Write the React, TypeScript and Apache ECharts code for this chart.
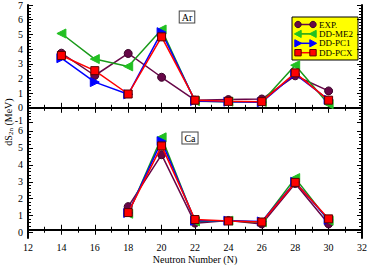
import React, { useEffect, useRef } from "react";
import * as echarts from "echarts";

const neutrons = [14, 16, 18, 20, 22, 24, 26, 28, 30];
const arExp = [3.72, 2.2, 3.7, 2.08, 0.52, 0.56, 0.6, 2.18, 1.15];
const arMe2 = [5.06, 3.32, 2.82, 5.33, 0.45, 0.42, 0.4, 2.9, 0.25];
const arPc1 = [3.38, 1.75, 0.92, 5.15, 0.47, 0.42, 0.38, 2.3, 0.55];
const arPcx = [3.56, 2.53, 0.94, 4.83, 0.52, 0.44, 0.42, 2.38, 0.52];

const caNeutrons = [18, 20, 22, 24, 26, 28, 30];
const caExp = [1.4, 4.55, 0.4, 0.56, 0.35, 2.8, 0.35];
const caMe2 = [0.97, 5.6, 0.5, 0.55, 0.45, 3.13, 0.55];
const caPc1 = [1.02, 5.37, 0.55, 0.55, 0.5, 2.9, 0.6];
const caPcx = [1.04, 5.08, 0.62, 0.53, 0.47, 2.87, 0.66];

const seriesNames = ["EXP.", "DD-ME2", "DD-PC1", "DD-PCX"];

const FONT = "Liberation Serif";

const styles = [
  { line: "#670748", fill: "#670748", border: "#3a0428", symbol: "circle", rotate: 0, size: 8 },
  { line: "#1a9a1a", fill: "#22c022", border: "#22c022", symbol: "triangle", rotate: 90, size: 9 },
  { line: "#0000ff", fill: "#0000ff", border: "#0000ff", symbol: "triangle", rotate: -90, size: 9 },
  { line: "#ff0000", fill: "#ff0000", border: "#5a0000", symbol: "rect", rotate: 0, size: 8 },
];

export default function App() {
  const ref = useRef<HTMLDivElement>(null);
  useEffect(() => {
    const chart = echarts.init(ref.current!, null, { renderer: "svg" });
    const pair = (xs: number[], ys: number[]) => xs.map((x, i) => [x, ys[i]]);
    const arSets = [arExp, arMe2, arPc1, arPcx];
    const caSets = [caExp, caMe2, caPc1, caPcx];

    const mkSeries = (name: string, idx: number, data: number[][], axis: number) => ({
      name,
      type: "line",
      xAxisIndex: axis,
      yAxisIndex: axis,
      data,
      symbol: styles[idx].symbol,
      symbolRotate: styles[idx].rotate,
      symbolSize: styles[idx].size,
      lineStyle: { color: styles[idx].line, width: 1.5 },
      itemStyle: { color: styles[idx].fill, borderColor: styles[idx].border, borderWidth: 1 },
      z: 2 + idx,
    });

    const series: any[] = [];
    seriesNames.forEach((n, i) => series.push(mkSeries(n, i, pair(neutrons, arSets[i]), 0)));
    seriesNames.forEach((n, i) => series.push(mkSeries(n, i, pair(caNeutrons, caSets[i]), 1)));

    const axisLine = { show: true, lineStyle: { color: "#000", width: 2 } };
    const noLine = { show: false };
    const labelStyle = { fontFamily: FONT, fontSize: 10, color: "#000" };
    const tick = { inside: true, length: 5, lineStyle: { color: "#000", width: 1 } };

    const xAx = (gi: number, pos: string, showLabel: boolean, line: boolean) => ({
      type: "value",
      gridIndex: gi,
      position: pos,
      min: 12,
      max: 32,
      interval: 2,
      axisLine: line ? axisLine : noLine,
      axisTick: line ? tick : { show: false },
      minorTick: { show: line, splitNumber: 2, length: 3, lineStyle: { color: "#000" } },
      splitLine: { show: false },
      axisLabel: { show: showLabel, ...labelStyle, margin: 4 },
      name: showLabel ? "Neutron Number (N)" : "",
      nameLocation: "middle",
      nameGap: 16,
      nameTextStyle: { fontFamily: FONT, fontSize: 10, color: "#000" },
    });

    const yAx = (gi: number, pos: string, min: number, max: number, opts: any) => ({
      type: "value",
      gridIndex: gi,
      position: pos,
      min,
      max,
      interval: 1,
      axisLine: opts.line ? axisLine : noLine,
      axisTick: opts.ticks ? tick : { show: false },
      minorTick: { show: !!opts.ticks, splitNumber: 5, length: 3, lineStyle: { color: "#000" } },
      splitLine: { show: false },
      axisLabel: opts.labels
        ? {
            ...labelStyle,
            margin: 5,
            formatter: (v: number) => (v === -1 ? "{m|-1}" : String(v)),
            rich: { m: { ...labelStyle, padding: [0, 0, 4, 0] } },
          }
        : { show: false },
    });

    // bottom panel: data grid spans -0.5..6.5, tick overlay spans 0..6
    const bTop = 122.5;
    const bH = 118.5;
    const unit = bH / 7;

    chart.setOption({
      animation: false,
      backgroundColor: "#fff",
      grid: [
        { left: 28, right: 10, top: 3.5, height: 119 },
        { left: 28, right: 10, top: bTop, height: bH },
        { left: 28, right: 10, top: bTop + unit * 0.5, height: unit * 6 },
      ],
      xAxis: [
        xAx(0, "bottom", false, true),
        xAx(1, "bottom", true, true),
        xAx(0, "top", false, true),
        xAx(1, "top", false, true),
        { ...xAx(2, "bottom", false, false), show: false },
      ],
      yAxis: [
        yAx(0, "left", -1, 7, { line: true, ticks: true, labels: true }),
        yAx(1, "left", -0.5, 6.5, { line: true, ticks: false, labels: false }),
        yAx(0, "right", -1, 7, { line: true, ticks: true, labels: false }),
        yAx(1, "right", -0.5, 6.5, { line: true, ticks: false, labels: false }),
        yAx(2, "left", 0, 6, { line: false, ticks: true, labels: true }),
        yAx(2, "right", 0, 6, { line: false, ticks: true, labels: false }),
      ],
      graphic: [
        {
          type: "text",
          x: 187,
          y: 17,
          style: {
            text: "Ar",
            fontFamily: FONT,
            fontSize: 10,
            fill: "#000",
            align: "center",
            verticalAlign: "middle",
            borderColor: "#444",
            borderWidth: 1,
            padding: [1, 2, 0, 2],
            backgroundColor: "#fff",
          },
          z: 10,
        },
        {
          type: "text",
          x: 190,
          y: 138,
          style: {
            text: "Ca",
            fontFamily: FONT,
            fontSize: 10,
            fill: "#000",
            align: "center",
            verticalAlign: "middle",
            borderColor: "#444",
            borderWidth: 1,
            padding: [1, 2, 0, 2],
            backgroundColor: "#fff",
          },
          z: 10,
        },
        {
          type: "text",
          x: 8,
          y: 122,
          rotation: Math.PI / 2,
          style: {
            text: "{a|dS}{b|2n}{a| (MeV)}",
            align: "center",
            verticalAlign: "middle",
            fill: "#000",
            rich: {
              a: { fontFamily: FONT, fontSize: 10, fill: "#000" },
              b: { fontFamily: FONT, fontSize: 7, fill: "#000", padding: [5, 0, 0, 0] },
            },
          },
        },
        // legend box
        {
          type: "group",
          z: 20,
          children: [
            {
              type: "rect",
              shape: { x: 292, y: 17, width: 66, height: 43 },
              style: { fill: "#ffff00", stroke: "#000", lineWidth: 1 },
            },
            ...[0, 1, 2, 3].flatMap((i) => {
              const y = 24.5 + i * 9.4;
              const x1 = 298;
              const x2 = 313;
              const st = styles[i];
              const sym = (cx: number) => {
                if (i === 0)
                  return { type: "circle", shape: { cx, cy: y, r: 3.2 }, style: { fill: st.fill, stroke: st.border, lineWidth: 1 } };
                if (i === 3)
                  return { type: "rect", shape: { x: cx - 3.2, y: y - 3.2, width: 6.4, height: 6.4 }, style: { fill: st.fill, stroke: st.border, lineWidth: 1 } };
                const d = i === 1 ? -1 : 1;
                return {
                  type: "polygon",
                  shape: { points: [[cx + d * 3.6, y], [cx - d * 3.2, y - 3.6], [cx - d * 3.2, y + 3.6]] },
                  style: { fill: st.fill, stroke: st.border, lineWidth: 1 },
                };
              };
              return [
                { type: "line", shape: { x1, y1: y, x2, y2: y }, style: { stroke: st.line, lineWidth: 1.5 } },
                sym(x1),
                sym(x2),
                {
                  type: "text",
                  x: 319,
                  y,
                  style: {
                    text: seriesNames[i],
                    fontFamily: FONT,
                    fontSize: 9,
                    lineHeight: 9,
                    fill: "#000",
                    verticalAlign: "middle",
                  },
                },
              ];
            }),
          ],
        },
      ],
      series,
    });
    return () => chart.dispose();
  }, []);
  return <div ref={ref} style={{ width: 372, height: 265, position: "absolute", left: 0, top: 0 }} />;
}
